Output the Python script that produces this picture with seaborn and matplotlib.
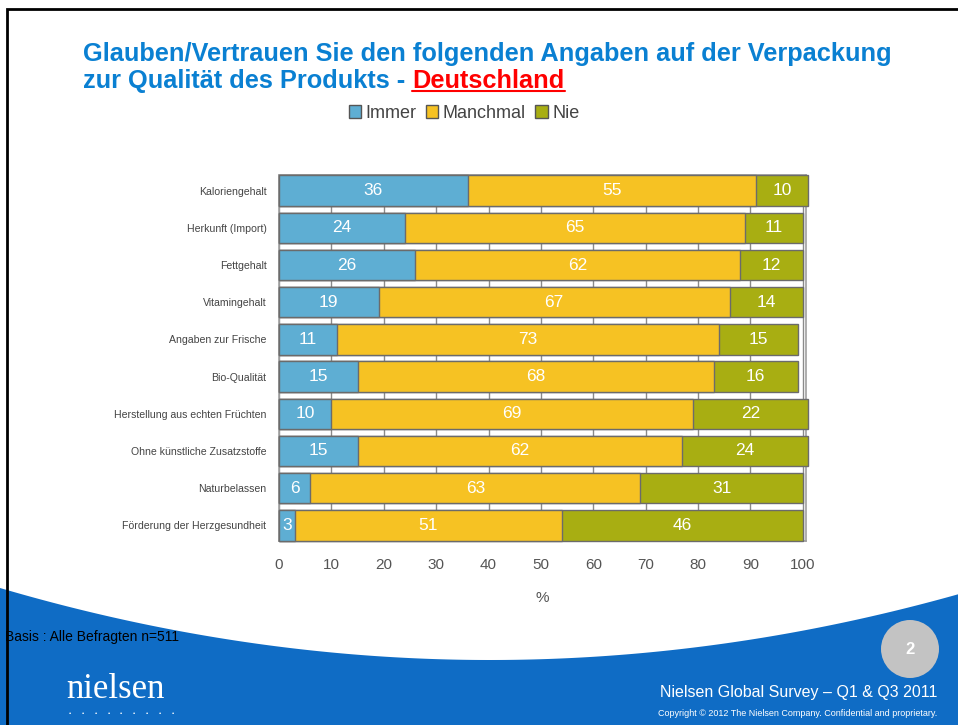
"""Nielsen survey: trust in packaging claims, Germany"""
import numpy as np
import pandas as pd
import matplotlib
matplotlib.use("Agg")
import matplotlib.pyplot as plt
from matplotlib.patches import Patch, Polygon, Ellipse, Rectangle
import seaborn as sns


CATEGORIES = ["Kaloriengehalt",
              "Herkunft (Import)",
              "Fettgehalt",
              "Vitamingehalt",
              "Angaben zur Frische",
              "Bio-Qualität",
              "Herstellung aus echten Früchten",
              "Ohne künstliche Zusatzstoffe",
              "Naturbelassen",
              "Förderung der Herzgesundheit"]
IMMER = [36, 24, 26, 19, 11, 15, 10, 15, 6, 3]
MANCHMAL = [55, 65, 62, 67, 73, 68, 69, 62, 63, 51]
NIE = [10, 11, 12, 14, 15, 16, 22, 24, 31, 46]
SERIES = ["Immer", "Manchmal", "Nie"]
COLORS = ["#5eaed3", "#f6c223", "#a8ae12"]
XTICKS = list(range(0, 101, 10))

BLUE = "#0f6cc5"
TITLE_BLUE = "#0a80d2"


def px(x, y):
    """pixel coords (from top-left) -> figure fraction"""
    return x / 958, 1 - y / 725


def main():
    sns.set_style("white")
    plt.rcParams["font.family"] = ["Liberation Sans", "DejaVu Sans"]

    df = pd.DataFrame({"cat": CATEGORIES, "Immer": IMMER,
                       "Manchmal": MANCHMAL, "Nie": NIE})
    df["c1"] = df["Immer"]
    df["c2"] = df["Immer"] + df["Manchmal"]
    df["c3"] = df["c2"] + df["Nie"]

    fig = plt.figure(figsize=(9.58, 7.25), dpi=100)

    # slide decoration: bottom blue wave and frame
    xs = np.linspace(0, 958, 200)
    ys = 660 - 72 * ((xs - 490) / 490) ** 2
    pts = [px(x, y) for x, y in zip(xs, ys)] + [px(958, 730), px(0, 730)]
    fig.patches.append(Polygon(pts, closed=True, transform=fig.transFigure,
                               facecolor=BLUE, edgecolor="none", zorder=0))
    fig.patches.append(Rectangle(px(7, 740), 1.0, (740 - 9) / 725,
                                 transform=fig.transFigure, fill=False,
                                 edgecolor="black", linewidth=2, zorder=1))

    ax = fig.add_axes([279 / 958, 1 - 541 / 725, (806 - 279) / 958,
                       (541 - 175) / 725])
    ax.set_facecolor("none")

    for col, color in zip(["c3", "c2", "c1"], COLORS[::-1]):
        sns.barplot(data=df, x=col, y="cat", orient="h", color=color,
                    width=0.82, edgecolor="#6b6b6b", linewidth=1.0,
                    ax=ax, clip_on=False, zorder=3, saturation=1)

    # segment labels
    for i, row in df.iterrows():
        lefts = [0, row["c1"], row["c2"]]
        for left, s in zip(lefts, SERIES):
            v = row[s]
            ax.text(left + v / 2, i, str(v), ha="center", va="center",
                    color="white", fontsize=12.5, zorder=5)

    ax.set_xlim(0, 100.6)
    ax.set_ylim(9.42, -0.42)
    ax.set_xticks(XTICKS)
    ax.xaxis.grid(True, color="#8a8a8a", linewidth=1.0, zorder=0)
    ax.set_axisbelow(True)
    ax.tick_params(axis="x", length=0, pad=12, labelsize=11,
                   labelcolor="#555555")
    ax.tick_params(axis="y", length=0, pad=9, labelsize=7.6,
                   labelcolor="#444444")
    ax.set_xlabel("%", fontsize=11, color="#555555", labelpad=14)
    ax.set_ylabel("")
    for sp in ax.spines.values():
        sp.set_visible(True)
        sp.set_color("#a0a0a0")
        sp.set_linewidth(1.2)

    # legend
    handles = [Patch(facecolor=c, edgecolor="#555555", linewidth=1.0)
               for c in COLORS]
    fig.legend(handles, SERIES, loc="center", bbox_to_anchor=px(464, 113),
               ncol=3, frameon=False, fontsize=13, handlelength=0.7,
               handleheight=0.7, handletextpad=0.25, columnspacing=0.5,
               labelcolor="#444444")

    # title
    tsize = 18.3
    x0, y0 = px(83, 61)
    fig.text(x0, y0, "Glauben/Vertrauen Sie den folgenden Angaben auf der "
             "Verpackung", fontsize=tsize, fontweight="bold",
             color=TITLE_BLUE, va="baseline")
    x1, y1 = px(83, 88)
    t2 = fig.text(x1, y1, "zur Qualität des Produkts - ", fontsize=tsize,
                  fontweight="bold", color=TITLE_BLUE, va="baseline")
    r = fig.canvas.get_renderer()
    bb = t2.get_window_extent(renderer=r)
    xr = bb.x1 / fig.bbox.width
    t3 = fig.text(xr, y1, "Deutschland", fontsize=tsize, fontweight="bold",
                  color="#ff0000", va="baseline")
    bb3 = t3.get_window_extent(renderer=r)
    uy = y1 - 3 / 725
    fig.add_artist(plt.Line2D([bb3.x0 / fig.bbox.width, bb3.x1 / fig.bbox.width],
                              [uy, uy], transform=fig.transFigure,
                              color="#ff0000", linewidth=1.5))

    # footer
    fig.text(*px(5, 637), "Basis : Alle Befragten n=511", fontsize=10,
             color="black", va="center", zorder=5)
    fig.patches.append(Ellipse(px(910, 649), 58 / 958, 58 / 725,
                               transform=fig.transFigure,
                               facecolor="#c3c3c3", edgecolor="none"))
    fig.text(*px(910, 650), "2", fontsize=12, fontweight="bold",
             color="white", ha="center", va="center")
    fig.text(*px(937, 692), "Nielsen Global Survey \u2013 Q1 & Q3 2011",
             fontsize=11.5, color="white", ha="right", va="center")
    fig.text(*px(937, 714), "Copyright \u00a9 2012 The Nielsen Company. "
             "Confidential and proprietary.", fontsize=6.5, color="white",
             ha="right", va="center")
    fig.text(*px(66, 698), "nielsen", fontsize=25, color="white",
             family=["Liberation Serif", "DejaVu Serif"], va="baseline")
    for k in range(9):
        fig.text(*px(70 + 12.8 * k, 714), "\u2022", fontsize=4.5,
                 color="white", ha="center", va="center")

    fig.savefig("out.png", dpi=100)


if __name__ == "__main__":
    main()
